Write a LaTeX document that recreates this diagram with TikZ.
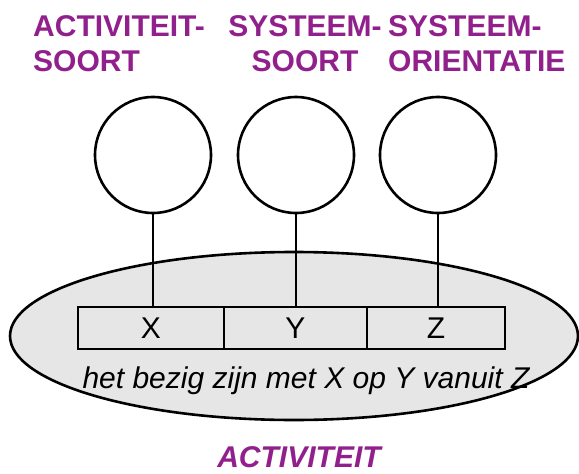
\documentclass[tikz,border=0pt]{standalone}
\usepackage{fontspec}
\setmainfont{Liberation Sans}
\usetikzlibrary{shapes.geometric}
\definecolor{lbl}{RGB}{145,32,140}
\definecolor{ellfill}{RGB}{230,230,230}
\begin{document}
\begin{tikzpicture}[x=1pt,y=-1pt,
  ln/.style={line width=2.6pt},
  circ/.style={draw,circle,line width=2.6pt,minimum size=116pt,inner sep=0pt},
  cell/.style={draw,line width=2.6pt,minimum height=42pt,inner sep=0pt,font=\fontsize{30}{32}\selectfont},
  ttl/.style={text=lbl,font=\fontsize{30}{35}\selectfont\bfseries,inner sep=0pt}]
\useasboundingbox (0,0) rectangle (579,474);
\node[draw,ellipse,line width=2.6pt,fill=ellfill,minimum width=568pt,minimum height=168pt,inner sep=0pt] (ell) at (294,336) {};
\node[cell,minimum width=146pt] (cx) at (151,328) {X};
\node[cell,minimum width=143pt] (cy) at (295.5,328) {Y};
\node[cell,minimum width=138pt] (cz) at (436,328) {Z};
\node[circ] (c1) at (153,155) {};
\node[circ] (c2) at (296,155) {};
\node[circ] (c3) at (438,155) {};
\draw[ln] (c1.south) -- (c1.south |- cx.north);
\draw[ln] (c2.south) -- (c2.south |- cy.north);
\draw[ln] (c3.south) -- (c3.south |- cz.north);
\node[anchor=base,inner sep=0pt,font=\fontsize{30}{32}\selectfont\itshape] (t) at (306,388) {het bezig zijn met X op Y vanuit Z};
\node[ttl,anchor=base west] (l1a) at (33,36) {ACTIVITEIT-};
\node[ttl,anchor=base west] (l1b) at (33,71) {SOORT};
\node[ttl,anchor=base] (l2a) at (305,36) {SYSTEEM-};
\node[ttl,anchor=base] (l2b) at (305,71) {SOORT};
\node[ttl,anchor=base west] (l3a) at (388,36) {SYSTEEM-};
\node[ttl,anchor=base west] (l3b) at (388,71) {ORIENTATIE};
\node[ttl,anchor=base,font=\fontsize{30}{35}\selectfont\bfseries\itshape] (bt) at (299,467) {ACTIVITEIT};
\end{tikzpicture}
\end{document}
